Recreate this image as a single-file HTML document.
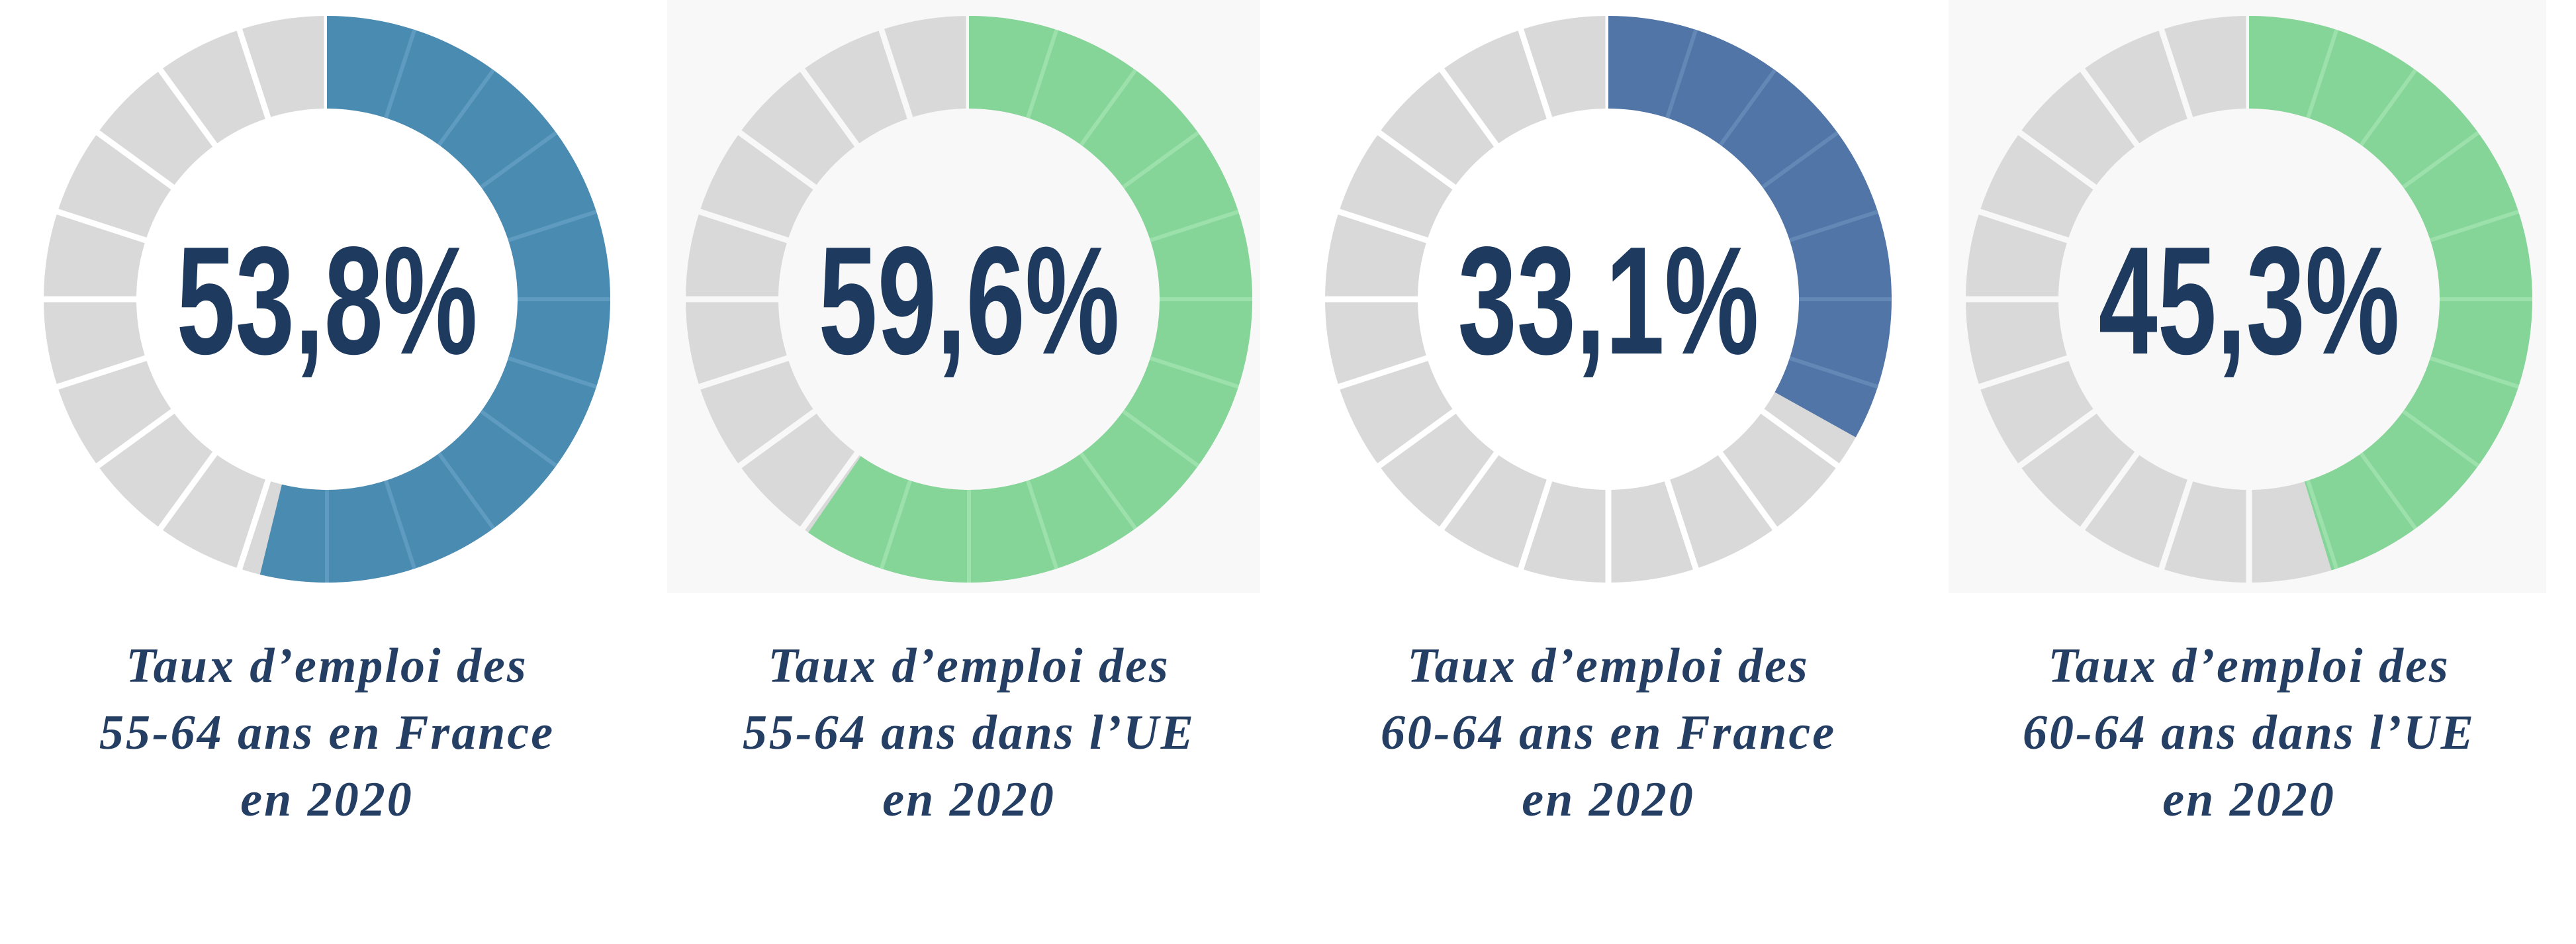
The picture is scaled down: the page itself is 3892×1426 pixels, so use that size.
<!DOCTYPE html>
<html><head><meta charset="utf-8"><style>
html,body{margin:0;padding:0;background:#fff;}
svg{display:block;}
.pct{font-family:"Liberation Sans Narrow","Liberation Sans",sans-serif;font-weight:bold;fill:#1f3a5f;}
.cap{font-family:"Liberation Serif",serif;font-weight:bold;font-style:italic;fill:#243f63;font-size:74px;letter-spacing:3px;}
</style></head><body>
<svg id="chart" width="3892" height="1426" viewBox="0 0 3892 1426">
<rect x="1008" y="0" width="896" height="896" fill="#f8f8f8"/>
<rect x="2944" y="0" width="903" height="896" fill="#f8f8f8"/>
</svg>
<script>
const labels = ["53,8%", "59,6%", "33,1%", "45,3%"];
const values = [53.8, 59.6, 33.1, 45.3];
const captions = [
  ["Taux d’emploi des", "55-64 ans en France", "en 2020"],
  ["Taux d’emploi des", "55-64 ans dans l’UE", "en 2020"],
  ["Taux d’emploi des", "60-64 ans en France", "en 2020"],
  ["Taux d’emploi des", "60-64 ans dans l’UE", "en 2020"]
];
const colors = ["#4a8bb1", "#86d598", "#5075a6", "#86d598"];
const divColors = ["#5f9bc0", "#9ce0ab", "#6488b6", "#9ce0ab"];
const centersX = [494, 1464, 2430, 3398];
const CY = 452, RO = 428, RI = 288, NSEG = 20;
const svg = document.getElementById('chart');
const NS = 'http://www.w3.org/2000/svg';
function pt(r, a, cx) { const t = a * Math.PI / 180; return [cx + r * Math.sin(t), CY - r * Math.cos(t)]; }
function sector(cx, a0, a1) {
  const p1 = pt(RO, a0, cx), p2 = pt(RO, a1, cx), p3 = pt(RI, a1, cx), p4 = pt(RI, a0, cx);
  const lg = (a1 - a0) > 180 ? 1 : 0;
  return `M${p1[0]},${p1[1]} A${RO},${RO} 0 ${lg} 1 ${p2[0]},${p2[1]} L${p3[0]},${p3[1]} A${RI},${RI} 0 ${lg} 0 ${p4[0]},${p4[1]} Z`;
}
function angleOf(v) { return v / 100 * 360; }
values.forEach((v, i) => {
  const cx = centersX[i];
  const g = document.createElementNS(NS, 'g');
  
  
  svg.appendChild(g);
  const step = 360 / NSEG;
  for (let s = 0; s < NSEG; s++) {
    const p = document.createElementNS(NS, 'path');
    p.setAttribute('d', sector(cx, s * step, (s + 1) * step));
    p.setAttribute('fill', '#d9d9d9');
    
    
    g.appendChild(p);
  }
  for (let s = 0; s < NSEG; s++) {
    const a = s * step, q1 = pt(RO + 2, a, cx), q2 = pt(RI - 2, a, cx);
    const l = document.createElementNS(NS, 'line');
    l.setAttribute('x1', q1[0]); l.setAttribute('y1', q1[1]);
    l.setAttribute('x2', q2[0]); l.setAttribute('y2', q2[1]);
    l.setAttribute('stroke', i % 2 ? '#f8f8f8' : '#ffffff'); l.setAttribute('stroke-width', 9);
    
    
    g.appendChild(l);
  }
  const end = angleOf(v);
  const arc = document.createElementNS(NS, 'path');
  arc.setAttribute('d', sector(cx, 0, end));
  arc.setAttribute('fill', colors[i]);
  
  
  g.appendChild(arc);
  for (let s = 1; s * step < end; s++) {
    const a = s * step, q1 = pt(RO, a, cx), q2 = pt(RI, a, cx);
    const l = document.createElementNS(NS, 'line');
    l.setAttribute('x1', q1[0]); l.setAttribute('y1', q1[1]);
    l.setAttribute('x2', q2[0]); l.setAttribute('y2', q2[1]);
    l.setAttribute('stroke', divColors[i]); l.setAttribute('stroke-width', 6);
    
    
    g.appendChild(l);
  }
  const t = document.createElementNS(NS, 'text');
  t.setAttribute('x', cx); t.setAttribute('y', CY + 82);
  t.setAttribute('text-anchor', 'middle');
  t.setAttribute('class', 'pct');
  t.setAttribute('font-size', '232');
  t.setAttribute('textLength', '455');
  t.setAttribute('lengthAdjust', 'spacingAndGlyphs');
  t.textContent = labels[i];
  
  
  g.appendChild(t);
  captions[i].forEach((line, k) => {
    const c = document.createElementNS(NS, 'text');
    c.setAttribute('x', cx); c.setAttribute('y', 1030 + k * 101);
    c.setAttribute('text-anchor', 'middle');
    c.setAttribute('class', 'cap');
    c.textContent = line;
    
    
    svg.appendChild(c);
  });
});
</script>
</body></html>
